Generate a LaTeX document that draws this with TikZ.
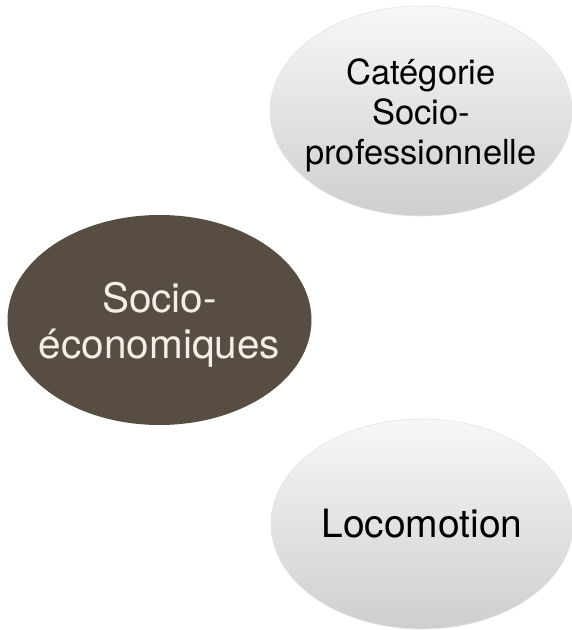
\documentclass[tikz,border=0pt]{standalone}
\usepackage{fontspec}
\setmainfont{TeX Gyre Heros}
\usepackage{tikz}
\usetikzlibrary{shapes.geometric,positioning}
\definecolor{bubbrown}{HTML}{574D43}
\definecolor{bubcream}{HTML}{F3EEE6}

\begin{document}
\begin{tikzpicture}[
  x=1pt, y=1pt,
  darkbub/.style={ellipse, fill=bubbrown, inner sep=0pt,
    minimum width=304pt, minimum height=210pt},
  greybub/.style={ellipse, top color=gray!6, bottom color=gray!38,
    draw=gray!22, line width=0.6pt, inner sep=0pt,
    minimum width=302pt, minimum height=210pt},
  bubtext/.style={align=center, inner sep=0pt}
]
\useasboundingbox (0,0) rectangle (572,630);

\node[darkbub] (socio) at (159.5,310) {};
\node[greybub] (cat) at (421,519) {};
\node[greybub] (loco) at (422,106) {};

\node[bubtext, text=bubcream, font=\fontsize{40.5}{46}\selectfont]
  (sociotxt) at ([yshift=-5pt]socio.center) {Socio-\\économiques};
\node[bubtext, font=\fontsize{34.5}{40}\selectfont]
  (cattxt) at ([yshift=-4pt]cat.center) {Catégorie\\Socio-\\professionnelle};
\node[bubtext, font=\fontsize{39}{45}\selectfont]
  (locotxt) at (loco.center) {Locomotion};
\end{tikzpicture}
\end{document}
